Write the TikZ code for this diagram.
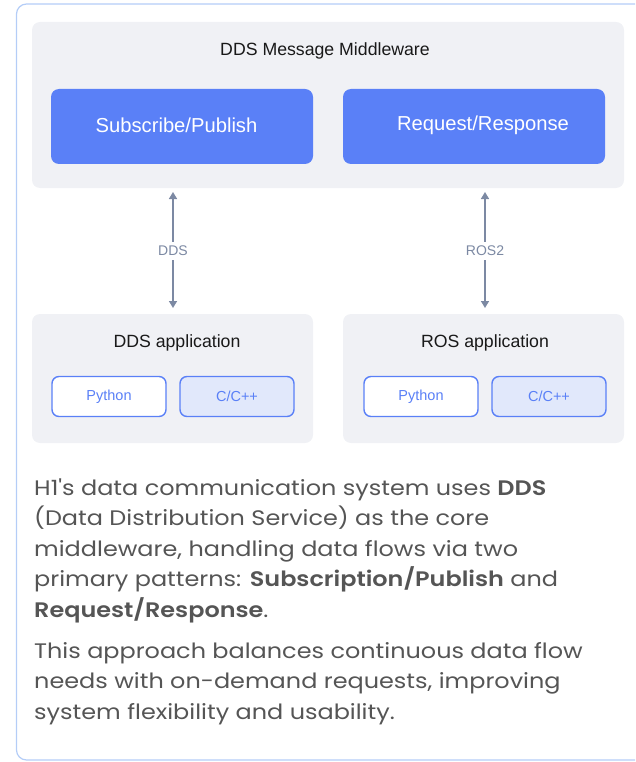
\documentclass[tikz,border=0pt]{standalone}
\usepackage{fontspec}
\setmainfont{Liberation Sans}
\newfontfamily\parafont[FakeStretch=1.14,BoldFont={Poppins SemiBold}]{Poppins}
\usetikzlibrary{arrows.meta}

\definecolor{frameblue}{HTML}{B4CDF7}
\definecolor{panelgray}{HTML}{F0F1F5}
\definecolor{mainblue}{HTML}{5A80F7}
\definecolor{lightblue}{HTML}{E1E8FB}
\definecolor{arrowgray}{HTML}{7C89A3}
\definecolor{textgray}{HTML}{555555}

\begin{document}
\begin{tikzpicture}[x=1pt,y=-1pt,
    panel/.style={fill=panelgray, rounded corners=8pt, inner sep=0pt},
    bluebox/.style={fill=mainblue, rounded corners=8pt, inner sep=0pt,
        minimum width=262pt, minimum height=75pt},
    langbox/.style={draw=mainblue, line width=1.4pt, rounded corners=7pt,
        minimum width=114pt, minimum height=40pt, inner sep=0pt,
        text=mainblue, font=\fontsize{14.5}{16}\selectfont},
    title/.style={text=black!90, font=\fontsize{17.7}{20}\selectfont, inner sep=0pt},
    boxlabel/.style={text=white, font=\fontsize{20.2}{22}\selectfont, inner sep=0pt},
    link/.style={arrowgray, line width=1.5pt, {Triangle[length=7pt,width=8pt]}-{Triangle[length=7pt,width=8pt]},
        shorten <=4pt, shorten >=6pt},
    linklabel/.style={fill=white, text=arrowgray, font=\fontsize{14}{16}\selectfont, inner sep=4pt},
    para/.style={anchor=base west, align=left, inner sep=0pt, text=textgray,
        font=\parafont\fontsize{21}{30.4}\selectfont}]
    \useasboundingbox (0,0) rectangle (635,762);
    \clip (0,0) rectangle (635,762);

    % outer frame
    \draw[frameblue, line width=1.2pt, rounded corners=10pt] (16.5,4) rectangle (700,760);

    % middleware
    \node[panel, minimum width=592pt, minimum height=166pt] (mw) at (328,105) {};
    \node[title] (mwtitle) at (325,51) {DDS Message Middleware};
    \node[bluebox] (sub) at (182,126.5) {};
    \node[bluebox] (req) at (474,126.5) {};
    \node[boxlabel] (subtxt) at (176.5,125) {Subscribe/Publish};
    \node[boxlabel] (reqtxt) at (483,125) {Request/Response};

    % applications
    \node[panel, minimum width=281pt, minimum height=129pt] (ddsapp) at (172.5,378.5) {};
    \node[panel, minimum width=281pt, minimum height=129pt] (rosapp) at (483.5,378.5) {};
    \node[title] (ddstitle) at (177,342.5) {DDS application};
    \node[title] (rostitle) at (485,342.5) {ROS application};
    \node[langbox, fill=white] (py1) at (109,396.5) {Python};
    \node[langbox, fill=lightblue] (cc1) at (237,396.5) {C/C++};
    \node[langbox, fill=white] (py2) at (421,396.5) {Python};
    \node[langbox, fill=lightblue] (cc2) at (549,396.5) {C/C++};

    % links
    \coordinate (ddstop) at (173,188);
    \coordinate (ddsbot) at (173,314);
    \coordinate (rostop) at (485,188);
    \coordinate (rosbot) at (485,314);
    \draw[link] (ddstop) -- (ddsbot) node[midway, linklabel] (ddslink) {DDS};
    \draw[link] (rostop) -- (rosbot) node[midway, linklabel] (roslink) {ROS2};

    % text (base = last line)
    \node[para] (p1) at (34,617) {H1's data communication system uses \textbf{DDS}\\
        (Data Distribution Service) as the core\\
        middleware, handling data flows via two\\
        primary patterns: \textbf{Subscription/Publish} and\\
        \textbf{Request/Response}.};
    \node[para] (p2) at (34,719) {This approach balances continuous data flow\\
        needs with on-demand requests, improving\\
        system flexibility and usability.};
\end{tikzpicture}
\end{document}
